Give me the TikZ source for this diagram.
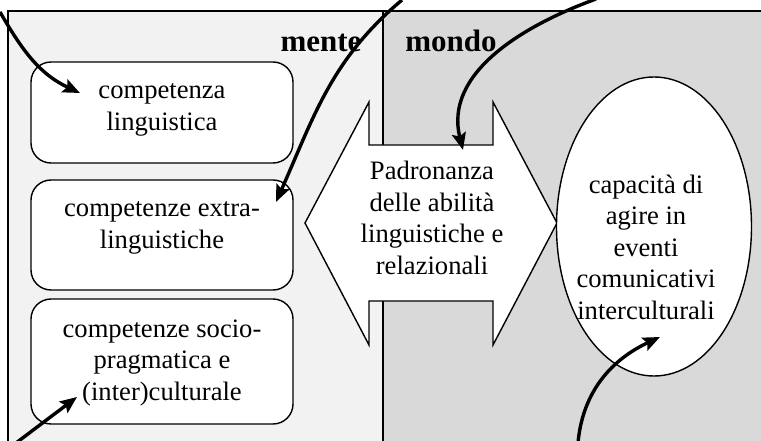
\documentclass[tikz,border=0pt]{standalone}
\usepackage{fontspec}
\setmainfont{Liberation Serif}
\usetikzlibrary{positioning,arrows.meta,shapes.geometric,calc}
\definecolor{mentegray}{HTML}{F2F2F2}
\definecolor{mondogray}{HTML}{D9D9D9}

\begin{document}
\begin{tikzpicture}[x=1pt,y=-1pt,
  box/.style={draw,fill=white,line width=1.4pt,rounded corners=20pt,minimum width=262pt,inner sep=0pt},
  txt/.style={align=center,font=\fontsize{26.6}{31.5}\selectfont,inner sep=0pt},
  title/.style={font=\fontsize{31}{36}\selectfont\bfseries,inner sep=0pt,anchor=base},
  curve/.style={line width=3.4pt,-{Stealth[length=17pt,width=14pt,inset=3pt]}}]
\useasboundingbox (0,0) rectangle (761,441);
% the two halves
\fill[mentegray] (8,11) rectangle (383,450);
\fill[mondogray] (383,11) rectangle (770,450);
\draw[line width=1.4pt] (770,11) -- (8,11) -- (8,450);
\draw[line width=1.4pt] (383,11) -- (383,450);
\node[title] (mente) at (321,52) {mente};
\node[title] (mondo) at (451,52) {mondo};
% competences
\node[box,minimum height=101pt] (ling) at (162,112.5) {};
\node[box,minimum height=110pt] (extra) at (162,235) {};
\node[box,minimum height=125pt] (socio) at (162,361.5) {};
\node[txt] (lingtxt) at (162,110) {competenza\\linguistica};
\node[txt] (extratxt) at (162,228) {competenze extra-\\linguistiche};
\node[txt] (sociotxt) at (162,363) {competenze socio-\\pragmatica e\\(inter)culturale};
% double arrow
\draw[fill=white,line width=1.4pt] (305,223) -- (369,102) -- (369,145) -- (493,145) -- (493,102)
  -- (557,223) -- (493,345) -- (493,301) -- (369,301) -- (369,345) -- cycle;
\node[txt] (padr) at (432,218) {Padronanza\\delle abilità\\linguistiche e\\relazionali};
% capacity
\node[ellipse,draw,fill=white,line width=1.4pt,minimum width=195pt,minimum height=299pt,inner sep=0pt] (capac) at (654,226.5) {};
\begin{scope}
\clip (capac.center) ellipse [x radius=97pt, y radius=149pt];
\node[txt] (capactxt) at (646,247) {capacità di\\agire in\\eventi\\comunicativi\\interculturali};
\end{scope}
% arrows
\coordinate (a1) at (0,12);   \coordinate (t1) at (80,93);
\coordinate (a2) at (402,0);  \coordinate (t2) at (276,202);
\coordinate (a3) at (596,-1); \coordinate (t3) at (463,150);
\coordinate (a4) at (16,443); \coordinate (t4) at (77,397);
\coordinate (a5) at (578,443);\coordinate (t5) at (660,337);
\draw[curve] (a1) to[out=-60,in=155] (t1);
\draw[curve] (a2) to[out=-140,in=66] (t2);
\draw[curve] (a3) to[out=-160,in=104] (t3);
\draw[curve] (a4) -- (t4);
\draw[curve] (a5) to[out=85,in=-155] (t5);
\end{tikzpicture}
\end{document}
